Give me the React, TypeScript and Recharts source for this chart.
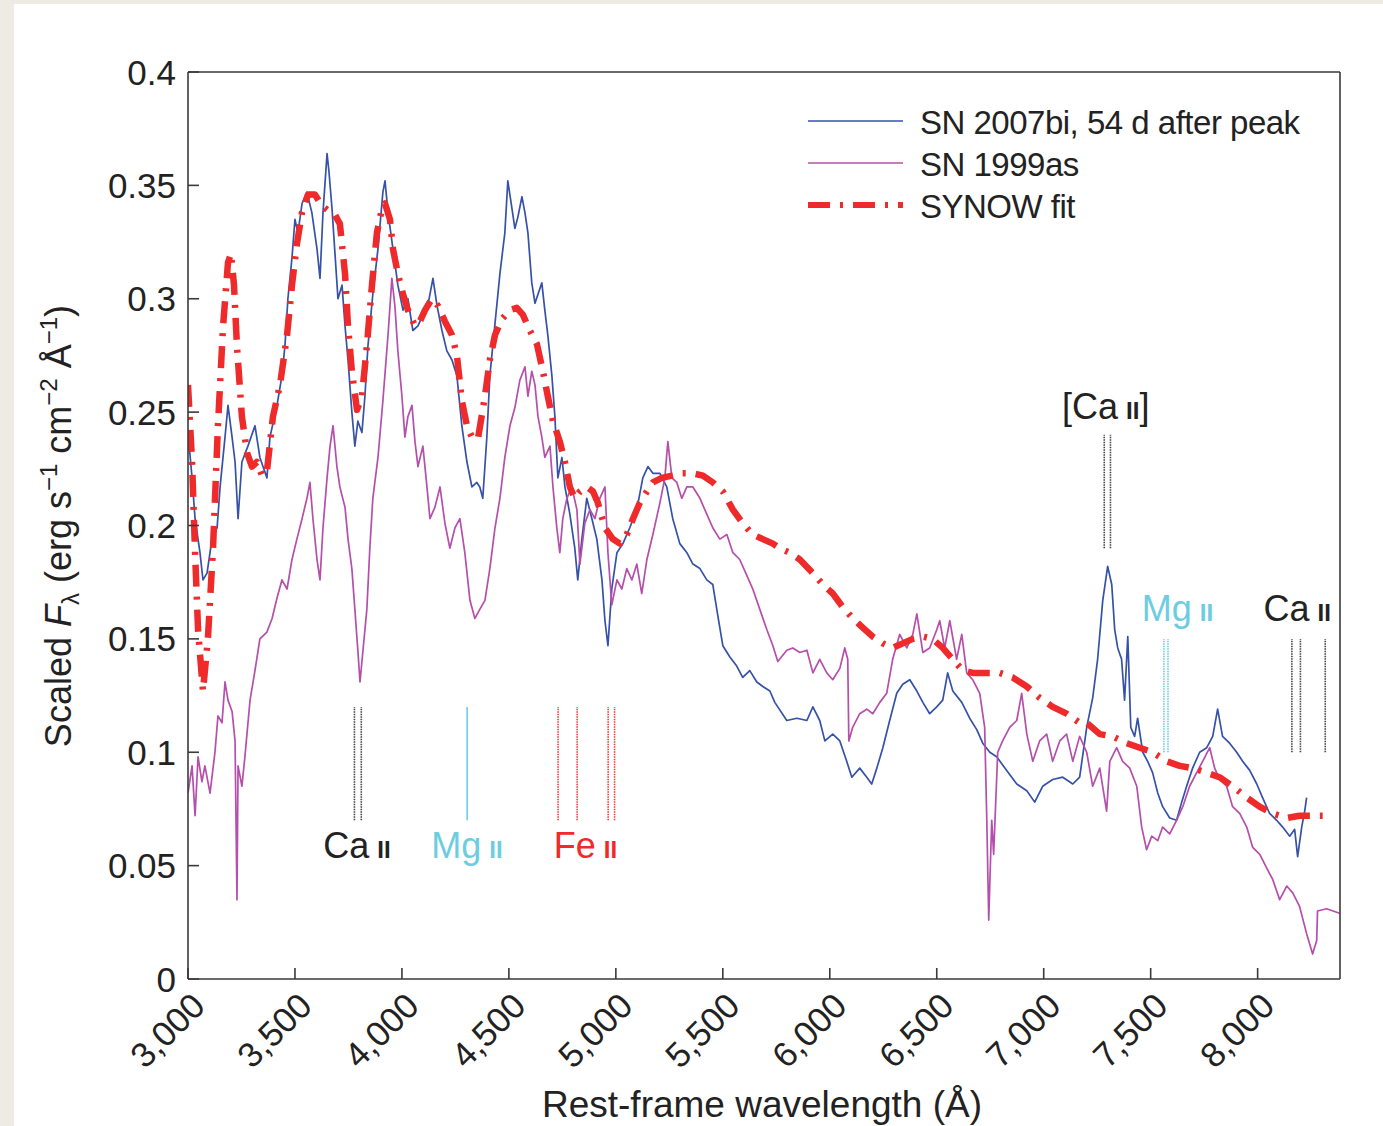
import { LineChart, Line, XAxis, YAxis, ReferenceLine, ReferenceDot, Legend } from 'recharts'

// spectra as [rest-frame wavelength (Å), scaled flux]
const sn2007bi: [number, number][] = [
  [3000, 0.241], [3019, 0.221], [3033, 0.203], [3056, 0.188], [3070, 0.176], [3089, 0.179], [3112, 0.194],
  [3136, 0.199], [3150, 0.217], [3173, 0.239], [3187, 0.253], [3206, 0.239], [3220, 0.228], [3234, 0.203],
  [3252, 0.228], [3280, 0.235], [3313, 0.244], [3336, 0.23], [3369, 0.221], [3383, 0.239], [3416, 0.253],
  [3439, 0.266], [3453, 0.279], [3467, 0.3], [3486, 0.318], [3500, 0.335], [3514, 0.329], [3533, 0.342],
  [3556, 0.347], [3579, 0.338], [3603, 0.322], [3617, 0.309], [3631, 0.338], [3650, 0.364], [3659, 0.356],
  [3673, 0.34], [3687, 0.32], [3701, 0.3], [3720, 0.306], [3734, 0.288], [3748, 0.273], [3766, 0.25],
  [3780, 0.235], [3794, 0.246], [3813, 0.241], [3827, 0.257], [3841, 0.279], [3864, 0.302], [3888, 0.322],
  [3911, 0.347], [3921, 0.352], [3935, 0.338], [3958, 0.322], [3981, 0.306], [4005, 0.295], [4028, 0.3],
  [4051, 0.286], [4075, 0.288], [4098, 0.293], [4121, 0.297], [4145, 0.309], [4164, 0.297], [4187, 0.286],
  [4210, 0.277], [4234, 0.273], [4257, 0.266], [4280, 0.244], [4304, 0.228], [4327, 0.217], [4350, 0.219],
  [4364, 0.217], [4378, 0.212], [4397, 0.239], [4411, 0.266], [4435, 0.289], [4458, 0.311], [4481, 0.329],
  [4495, 0.352], [4514, 0.34], [4528, 0.331], [4542, 0.336], [4561, 0.345], [4575, 0.338], [4589, 0.329],
  [4607, 0.307], [4622, 0.298], [4636, 0.302], [4654, 0.307], [4668, 0.295], [4682, 0.284], [4701, 0.266],
  [4715, 0.248], [4729, 0.221], [4748, 0.23], [4762, 0.217], [4785, 0.205], [4808, 0.19], [4822, 0.176],
  [4841, 0.194], [4864, 0.212], [4888, 0.203], [4911, 0.194], [4935, 0.176], [4949, 0.158], [4963, 0.147],
  [4981, 0.172], [5005, 0.188], [5033, 0.192], [5065, 0.199], [5098, 0.207], [5126, 0.221], [5150, 0.226],
  [5173, 0.223], [5206, 0.223], [5238, 0.217], [5266, 0.203], [5299, 0.192], [5332, 0.188], [5360, 0.183],
  [5393, 0.181], [5425, 0.176], [5453, 0.174], [5477, 0.16], [5500, 0.147], [5533, 0.142], [5565, 0.138],
  [5593, 0.133], [5626, 0.136], [5659, 0.131], [5687, 0.129], [5720, 0.127], [5743, 0.122], [5757, 0.12],
  [5799, 0.114], [5846, 0.115], [5893, 0.114], [5921, 0.12], [5953, 0.114], [5977, 0.105], [6014, 0.108],
  [6047, 0.105], [6079, 0.096], [6103, 0.089], [6140, 0.093], [6173, 0.089], [6196, 0.086], [6220, 0.093],
  [6248, 0.102], [6280, 0.114], [6313, 0.126], [6341, 0.13], [6374, 0.132], [6407, 0.127], [6435, 0.122],
  [6467, 0.117], [6500, 0.12], [6528, 0.123], [6551, 0.135], [6575, 0.127], [6617, 0.122], [6654, 0.115],
  [6687, 0.11], [6715, 0.104], [6748, 0.1], [6780, 0.098], [6827, 0.092], [6874, 0.086], [6921, 0.083],
  [6958, 0.078], [6995, 0.085], [7042, 0.088], [7089, 0.089], [7136, 0.086], [7168, 0.089], [7201, 0.111],
  [7229, 0.124], [7252, 0.141], [7276, 0.167], [7299, 0.182], [7318, 0.174], [7332, 0.154], [7346, 0.146],
  [7364, 0.141], [7378, 0.123], [7393, 0.151], [7407, 0.111], [7425, 0.107], [7439, 0.115], [7463, 0.1],
  [7486, 0.096], [7509, 0.091], [7533, 0.082], [7556, 0.076], [7589, 0.071], [7621, 0.07], [7645, 0.078],
  [7668, 0.085], [7696, 0.093], [7729, 0.1], [7762, 0.102], [7790, 0.107], [7813, 0.119], [7836, 0.107],
  [7869, 0.104], [7902, 0.1], [7930, 0.096], [7963, 0.092], [7996, 0.086], [8023, 0.08], [8056, 0.073],
  [8089, 0.07], [8117, 0.067], [8150, 0.063], [8173, 0.066], [8187, 0.054], [8206, 0.067], [8220, 0.074],
  [8229, 0.08],
]

const sn1999as: [number, number][] = [
  [3000, 0.082], [3019, 0.094], [3033, 0.072], [3047, 0.098], [3065, 0.087], [3079, 0.094], [3103, 0.082],
  [3126, 0.1], [3140, 0.116], [3159, 0.113], [3173, 0.131], [3187, 0.123], [3206, 0.118], [3220, 0.105],
  [3229, 0.035], [3234, 0.094], [3252, 0.085], [3266, 0.098], [3290, 0.123], [3313, 0.136], [3336, 0.15],
  [3369, 0.153], [3393, 0.159], [3416, 0.168], [3439, 0.176], [3463, 0.172], [3486, 0.185], [3509, 0.194],
  [3533, 0.203], [3556, 0.212], [3570, 0.219], [3584, 0.203], [3603, 0.185], [3617, 0.176], [3631, 0.199],
  [3650, 0.221], [3664, 0.235], [3678, 0.244], [3696, 0.226], [3710, 0.217], [3734, 0.208], [3748, 0.194],
  [3766, 0.181], [3780, 0.163], [3794, 0.145], [3804, 0.131], [3818, 0.145], [3836, 0.163], [3850, 0.19],
  [3864, 0.212], [3888, 0.23], [3911, 0.255], [3935, 0.284], [3953, 0.309], [3967, 0.297], [3981, 0.277],
  [4000, 0.257], [4014, 0.239], [4028, 0.248], [4047, 0.253], [4061, 0.237], [4075, 0.226], [4098, 0.235],
  [4117, 0.217], [4131, 0.203], [4154, 0.208], [4178, 0.217], [4201, 0.201], [4224, 0.19], [4248, 0.199],
  [4271, 0.203], [4294, 0.188], [4318, 0.167], [4341, 0.159], [4364, 0.163], [4388, 0.167], [4411, 0.181],
  [4435, 0.199], [4458, 0.212], [4481, 0.23], [4505, 0.244], [4528, 0.252], [4551, 0.264], [4575, 0.27],
  [4589, 0.257], [4607, 0.268], [4622, 0.262], [4636, 0.248], [4654, 0.239], [4668, 0.23], [4692, 0.235],
  [4706, 0.217], [4724, 0.199], [4738, 0.188], [4752, 0.203], [4771, 0.212], [4794, 0.217], [4818, 0.207],
  [4832, 0.183], [4855, 0.201], [4879, 0.207], [4902, 0.203], [4925, 0.212], [4949, 0.217], [4963, 0.188],
  [4981, 0.165], [5005, 0.176], [5028, 0.172], [5051, 0.181], [5075, 0.176], [5098, 0.183], [5121, 0.17],
  [5145, 0.185], [5173, 0.196], [5206, 0.21], [5229, 0.221], [5243, 0.237], [5262, 0.221], [5285, 0.219],
  [5308, 0.212], [5332, 0.217], [5360, 0.217], [5393, 0.212], [5425, 0.205], [5453, 0.199], [5486, 0.194],
  [5519, 0.196], [5547, 0.188], [5579, 0.185], [5612, 0.178], [5640, 0.172], [5673, 0.163], [5706, 0.154],
  [5734, 0.147], [5757, 0.14], [5799, 0.145], [5827, 0.146], [5860, 0.144], [5893, 0.145], [5921, 0.135],
  [5953, 0.141], [5986, 0.135], [6014, 0.132], [6047, 0.137], [6070, 0.146], [6084, 0.141], [6089, 0.105],
  [6107, 0.111], [6140, 0.117], [6173, 0.119], [6201, 0.117], [6234, 0.122], [6266, 0.126], [6294, 0.141],
  [6327, 0.152], [6360, 0.146], [6388, 0.152], [6407, 0.161], [6435, 0.144], [6467, 0.146], [6500, 0.154],
  [6514, 0.158], [6537, 0.146], [6561, 0.158], [6593, 0.141], [6617, 0.152], [6640, 0.135], [6668, 0.132],
  [6701, 0.126], [6724, 0.111], [6734, 0.07], [6743, 0.026], [6757, 0.07], [6766, 0.055], [6785, 0.1],
  [6808, 0.105], [6841, 0.111], [6874, 0.114], [6897, 0.126], [6921, 0.108], [6949, 0.096], [6981, 0.105],
  [7014, 0.108], [7042, 0.096], [7075, 0.105], [7107, 0.108], [7136, 0.096], [7168, 0.107], [7201, 0.1],
  [7229, 0.085], [7262, 0.093], [7294, 0.074], [7309, 0.096], [7341, 0.102], [7369, 0.096], [7402, 0.093],
  [7435, 0.085], [7458, 0.067], [7481, 0.057], [7505, 0.063], [7533, 0.061], [7556, 0.067], [7589, 0.064],
  [7621, 0.07], [7650, 0.076], [7682, 0.085], [7715, 0.091], [7743, 0.096], [7776, 0.102], [7799, 0.093],
  [7822, 0.088], [7855, 0.085], [7883, 0.076], [7916, 0.073], [7949, 0.067], [7977, 0.058], [8010, 0.055],
  [8042, 0.049], [8070, 0.044], [8103, 0.035], [8136, 0.041], [8164, 0.038], [8196, 0.032], [8229, 0.02],
  [8257, 0.011], [8276, 0.017], [8280, 0.03], [8322, 0.031], [8383, 0.029],
]

const synowFit: [number, number][] = [
  [3000, 0.262], [3019, 0.228], [3033, 0.188], [3047, 0.154], [3070, 0.127], [3093, 0.15], [3117, 0.19],
  [3140, 0.244], [3164, 0.288], [3187, 0.316], [3201, 0.32], [3215, 0.306], [3229, 0.279], [3252, 0.248],
  [3276, 0.232], [3299, 0.226], [3322, 0.228], [3346, 0.222], [3369, 0.224], [3397, 0.248], [3430, 0.262],
  [3463, 0.284], [3486, 0.306], [3509, 0.324], [3533, 0.338], [3561, 0.346], [3593, 0.346], [3626, 0.341],
  [3654, 0.339], [3687, 0.337], [3710, 0.333], [3734, 0.311], [3748, 0.288], [3766, 0.268], [3790, 0.251],
  [3813, 0.257], [3836, 0.279], [3860, 0.306], [3883, 0.329], [3907, 0.34], [3921, 0.342], [3944, 0.335],
  [3958, 0.322], [3981, 0.311], [4005, 0.302], [4028, 0.295], [4061, 0.288], [4084, 0.29], [4108, 0.295],
  [4140, 0.3], [4168, 0.297], [4201, 0.29], [4234, 0.284], [4257, 0.275], [4280, 0.255], [4304, 0.244],
  [4327, 0.239], [4355, 0.238], [4388, 0.257], [4411, 0.273], [4435, 0.284], [4467, 0.291], [4505, 0.295],
  [4537, 0.296], [4565, 0.293], [4598, 0.286], [4631, 0.28], [4659, 0.268], [4682, 0.257], [4706, 0.246],
  [4738, 0.237], [4762, 0.228], [4785, 0.217], [4808, 0.212], [4832, 0.215], [4864, 0.217], [4893, 0.215],
  [4916, 0.21], [4949, 0.199], [4986, 0.194], [5019, 0.192], [5051, 0.196], [5080, 0.203], [5112, 0.21],
  [5145, 0.215], [5173, 0.219], [5215, 0.221], [5262, 0.222], [5308, 0.223], [5360, 0.223], [5407, 0.222],
  [5453, 0.219], [5500, 0.215], [5547, 0.207], [5593, 0.201], [5640, 0.196], [5687, 0.194], [5734, 0.192],
  [5766, 0.19], [5813, 0.188], [5860, 0.185], [5921, 0.179], [5967, 0.174], [6014, 0.17], [6061, 0.164],
  [6108, 0.159], [6154, 0.155], [6201, 0.151], [6248, 0.148], [6294, 0.146], [6341, 0.148], [6388, 0.15],
  [6435, 0.151], [6481, 0.15], [6528, 0.146], [6575, 0.141], [6622, 0.136], [6668, 0.135], [6734, 0.135],
  [6794, 0.135], [6855, 0.133], [6921, 0.129], [6981, 0.124], [7042, 0.12], [7107, 0.117], [7168, 0.113],
  [7201, 0.113], [7262, 0.108], [7322, 0.107], [7388, 0.104], [7449, 0.102], [7509, 0.1], [7575, 0.096],
  [7636, 0.094], [7696, 0.093], [7762, 0.091], [7822, 0.089], [7883, 0.085], [7949, 0.08], [8009, 0.076],
  [8070, 0.073], [8136, 0.071], [8196, 0.072], [8257, 0.072], [8304, 0.072],
]

const xTicks = [3000, 3500, 4000, 4500, 5000, 5500, 6000, 6500, 7000, 7500, 8000]
const yTicks = [0, 0.05, 0.1, 0.15, 0.2, 0.25, 0.3, 0.35, 0.4]

// line identifications (Å)
const caLow = [3778, 3810]
const mgLow = [4305]
const feLow = [4730, 4819, 4964, 4994]
const caForbidden = [7283, 7312]
const mgHigh = [7562, 7581]
const caHigh = [8160, 8200, 8316]

const BLUE = '#3652a8'
const MAGENTA = '#b54fab'
const RED = '#ee2a2a'
const CYAN = '#6ccde2'
const INK = '#222'
const AXIS = '#3a3a3a'
const FONT = '"Liberation Sans", Arial, Helvetica, sans-serif'

const pts = (rows: [number, number][]) => rows.map(([w, f]) => ({ w, f }))

const series = [
  { key: 'b', name: 'SN 2007bi, 54 d after peak', rows: sn2007bi, color: BLUE, width: 1.7, dash: undefined },
  { key: 'a', name: 'SN 1999as', rows: sn1999as, color: MAGENTA, width: 1.7, dash: undefined },
  { key: 's', name: 'SYNOW fit', rows: synowFit, color: RED, width: 6.5, dash: '22 10 3 10' },
]

// marker groups: wavelengths, vertical extent in flux units, style
const markers = [
  { ws: caLow, y0: 0.07, y1: 0.12, color: '#444', dash: '1.5 1' },
  { ws: mgLow, y0: 0.07, y1: 0.12, color: CYAN, dash: undefined },
  { ws: feLow, y0: 0.07, y1: 0.12, color: '#f03a3a', dash: '1.5 1' },
  { ws: caForbidden, y0: 0.19, y1: 0.24, color: '#444', dash: '1.5 1' },
  { ws: mgHigh, y0: 0.1, y1: 0.15, color: CYAN, dash: '1.5 1' },
  { ws: caHigh, y0: 0.1, y1: 0.15, color: '#444', dash: '1.5 1' },
]

const ionLabels = [
  { w: 3790, f: 0.0535, text: 'Ca', open: '', close: '', color: INK },
  { w: 4304, f: 0.0535, text: 'Mg', open: '', close: '', color: CYAN },
  { w: 4858, f: 0.0535, text: 'Fe', open: '', close: '', color: '#f02a2a' },
  { w: 7290, f: 0.247, text: 'Ca', open: '[', close: ']', color: INK },
  { w: 7625, f: 0.158, text: 'Mg', open: '', close: '', color: CYAN },
  { w: 8185, f: 0.158, text: 'Ca', open: '', close: '', color: INK },
]

const XTick = (props: any) => {
  const { x, y, payload } = props
  const ax = x + 19
  return (
    <text x={ax} y={y} transform={`rotate(-45 ${ax} ${y})`} textAnchor="end" fontSize={35} fill={INK} fontFamily={FONT}>
      {payload.value.toLocaleString('en-US')}
    </text>
  )
}

const YTick = (props: any) => {
  const { x, y, payload } = props
  return (
    <text x={x} y={y} dy={12.5} textAnchor="end" fontSize={35} fill={INK} fontFamily={FONT}>
      {String(+payload.value.toFixed(2))}
    </text>
  )
}

const IonLabel = (lab: (typeof ionLabels)[number]) => (p: any) => (
  <text x={p.cx} y={p.cy} textAnchor="middle" fill={lab.color} fontFamily={FONT} fontSize={36}>
    {lab.open}
    {lab.text}
    <tspan dx={8} fontSize={24} fontWeight="bold">II</tspan>
    {lab.close}
  </text>
)

const LegendBox = () => (
  <div style={{ fontFamily: FONT, fontSize: 33, letterSpacing: -0.5, color: INK }}>
    {series.map((s) => (
      <div key={s.key} style={{ display: 'flex', alignItems: 'center', height: 42 }}>
        <svg width={95} height={10} style={{ marginRight: 17 }}>
          <line x1={0} x2={95} y1={5} y2={5} stroke={s.color} strokeWidth={s.dash ? 6 : 1.5} strokeDasharray={s.dash} />
        </svg>
        <span style={{ lineHeight: '42px', position: 'relative', top: 2 }}>{s.name}</span>
      </div>
    ))}
  </div>
)

const axisStyle = { stroke: AXIS, strokeWidth: 1.6 }

export default function App() {
  return (
    <div style={{ position: 'absolute', left: 0, top: 0, width: 1383, height: 1126, background: '#eeebe4', overflow: 'hidden' }}>
      <div style={{ position: 'absolute', left: 14, top: 4, right: 0, bottom: 0, background: '#fff' }} />
      <div style={{ position: 'absolute', left: 0, top: 0 }}>
        <LineChart width={1383} height={1126} margin={{ top: 71, right: 42, bottom: 146, left: 187 }}>
          <XAxis
            dataKey="w"
            type="number"
            domain={[3000, 8385]}
            allowDataOverflow
            ticks={xTicks}
            interval={0}
            height={1}
            tickSize={-11}
            tickMargin={40}
            axisLine={axisStyle}
            tickLine={axisStyle}
            tick={<XTick />}
          />
          <XAxis
            xAxisId="top"
            orientation="top"
            type="number"
            domain={[3000, 8385]}
            allowDataOverflow
            ticks={xTicks}
            interval={0}
            height={1}
            tickSize={-11}
            axisLine={axisStyle}
            tickLine={axisStyle}
            tick={false}
          />
          <YAxis
            type="number"
            domain={[0, 0.4]}
            allowDataOverflow
            ticks={yTicks}
            interval={0}
            width={1}
            tickSize={-11}
            tickMargin={23}
            axisLine={axisStyle}
            tickLine={axisStyle}
            tick={<YTick />}
          />
          <YAxis
            yAxisId="right"
            orientation="right"
            type="number"
            domain={[0, 0.4]}
            allowDataOverflow
            ticks={yTicks}
            interval={0}
            width={1}
            tickSize={-11}
            axisLine={axisStyle}
            tickLine={axisStyle}
            tick={false}
          />

          {series.map((s) => (
            <Line
              key={s.key}
              data={pts(s.rows)}
              dataKey="f"
              name={s.name}
              stroke={s.color}
              strokeWidth={s.width}
              strokeDasharray={s.dash}
              strokeLinejoin="round"
              dot={false}
              activeDot={false}
              isAnimationActive={false}
            />
          ))}

          {markers.flatMap((m, i) =>
            m.ws.map((w) => (
              <ReferenceLine
                key={`m${i}-${w}`}
                segment={[{ x: w, y: m.y0 }, { x: w, y: m.y1 }]}
                stroke={m.color}
                strokeWidth={1.6}
                strokeDasharray={m.dash}
              />
            ))
          )}

          {ionLabels.map((lab) => (
            <ReferenceDot key={`${lab.text}${lab.w}`} x={lab.w} y={lab.f} r={0} shape={IonLabel(lab)} />
          ))}

          <Legend
            layout="vertical"
            align="center"
            verticalAlign="middle"
            content={<LegendBox />}
            wrapperStyle={{ left: 808, top: 100, width: 540 }}
          />
        </LineChart>
      </div>
      <svg width={1383} height={1126} style={{ position: 'absolute', left: 0, top: 0, pointerEvents: 'none' }} fontFamily={FONT} fill={INK}>
        <text x={762} y={1117} textAnchor="middle" fontSize={37}>
          Rest-frame wavelength (Å)
        </text>
        <text transform="rotate(-90)" x={-526} y={71} textAnchor="middle" fontSize={36}>
          Scaled <tspan fontStyle="italic">F</tspan>
          <tspan fontSize={24} dy={8}>λ</tspan>
          <tspan dy={-8}> (erg s</tspan>
          <tspan fontSize={24} dy={-14}>−1</tspan>
          <tspan dy={14}> cm</tspan>
          <tspan fontSize={24} dy={-14}>−2</tspan>
          <tspan dy={14}> Å</tspan>
          <tspan fontSize={24} dy={-14}>−1</tspan>
          <tspan dy={14}>)</tspan>
        </text>
      </svg>
    </div>
  )
}
